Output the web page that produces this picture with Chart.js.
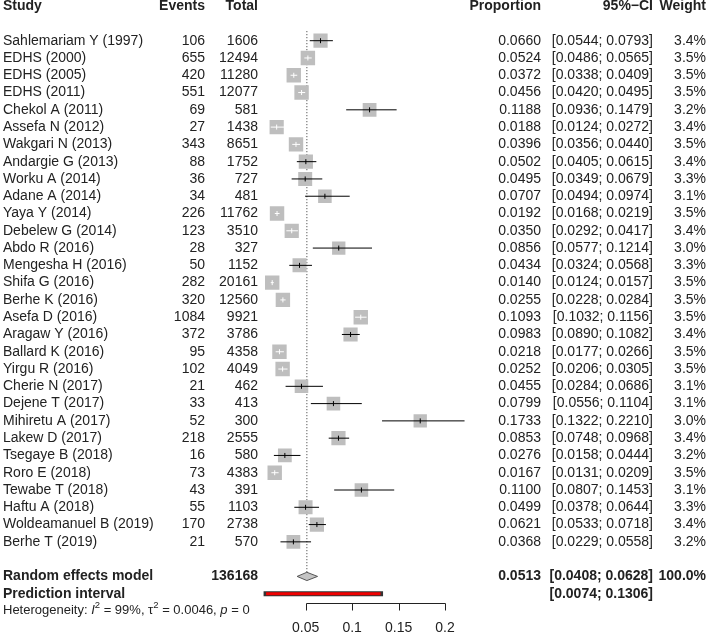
<!DOCTYPE html>
<html>
<head>
<meta charset="utf-8">
<script src="https://cdn.jsdelivr.net/npm/chart.js@4"></script>
<style>
body { margin: 0; background: #fff; }
</style>
</head>
<body>
<canvas id="forest" width="709" height="635"></canvas>
<script>
// study level data
const studies = [
  'Sahlemariam Y (1997)', 'EDHS (2000)', 'EDHS (2005)', 'EDHS (2011)', 'Chekol A (2011)',
  'Assefa N (2012)', 'Wakgari N (2013)', 'Andargie G (2013)', 'Worku A (2014)', 'Adane A (2014)',
  'Yaya Y (2014)', 'Debelew G (2014)', 'Abdo R (2016)', 'Mengesha H (2016)', 'Shifa G (2016)',
  'Berhe K (2016)', 'Asefa D (2016)', 'Aragaw Y (2016)', 'Ballard K (2016)', 'Yirgu R (2016)',
  'Cherie N (2017)', 'Dejene T (2017)', 'Mihiretu A (2017)', 'Lakew D (2017)', 'Tsegaye B (2018)',
  'Roro E (2018)', 'Tewabe T (2018)', 'Haftu A (2018)', 'Woldeamanuel B (2019)', 'Berhe T (2019)'
];
const events = [106, 655, 420, 551, 69, 27, 343, 88, 36, 34, 226, 123, 28, 50, 282,
  320, 1084, 372, 95, 102, 21, 33, 52, 218, 16, 73, 43, 55, 170, 21];
const totals = [1606, 12494, 11280, 12077, 581, 1438, 8651, 1752, 727, 481, 11762, 3510, 327, 1152, 20161,
  12560, 9921, 3786, 4358, 4049, 462, 413, 300, 2555, 580, 4383, 391, 1103, 2738, 570];
const props = [0.0660, 0.0524, 0.0372, 0.0456, 0.1188, 0.0188, 0.0396, 0.0502, 0.0495, 0.0707,
  0.0192, 0.0350, 0.0856, 0.0434, 0.0140, 0.0255, 0.1093, 0.0983, 0.0218, 0.0252,
  0.0455, 0.0799, 0.1733, 0.0853, 0.0276, 0.0167, 0.1100, 0.0499, 0.0621, 0.0368];
const lower = [0.0544, 0.0486, 0.0338, 0.0420, 0.0936, 0.0124, 0.0356, 0.0405, 0.0349, 0.0494,
  0.0168, 0.0292, 0.0577, 0.0324, 0.0124, 0.0228, 0.1032, 0.0890, 0.0177, 0.0206,
  0.0284, 0.0556, 0.1322, 0.0748, 0.0158, 0.0131, 0.0807, 0.0378, 0.0533, 0.0229];
const upper = [0.0793, 0.0565, 0.0409, 0.0495, 0.1479, 0.0272, 0.0440, 0.0615, 0.0679, 0.0974,
  0.0219, 0.0417, 0.1214, 0.0568, 0.0157, 0.0284, 0.1156, 0.1082, 0.0266, 0.0305,
  0.0686, 0.1104, 0.2210, 0.0968, 0.0444, 0.0209, 0.1453, 0.0644, 0.0718, 0.0558];
const weights = [3.4, 3.5, 3.5, 3.5, 3.2, 3.4, 3.5, 3.4, 3.3, 3.1, 3.5, 3.4, 3.0, 3.3, 3.5,
  3.5, 3.5, 3.4, 3.5, 3.5, 3.1, 3.1, 3.0, 3.4, 3.2, 3.5, 3.1, 3.3, 3.4, 3.2];

// pooled results
const pooled = [0.0513, 0.0408, 0.0628]; // estimate, lower, upper
const predInt = [0.0074, 0.1306];
const totalN = 136168;
const hetI2 = '99%', hetTau2 = '0.0046', hetP = '0';
const xTicks = [0.05, 0.1, 0.15, 0.2];

const reRow = 31, piRow = 32;
const FONT = '"Liberation Sans", Arial, sans-serif';

function squareSide(w) { return 7.7 * Math.sqrt(w); }

// CI drawn white when it fits inside the square
function inside(chart, i) {
  const x = chart.scales.x;
  return x.getPixelForValue(upper[i]) - x.getPixelForValue(lower[i]) < squareSide(weights[i]);
}

const ciData = [];
studies.forEach((s, i) => {
  ciData.push({x: lower[i], y: i}, {x: upper[i], y: i}, {x: null, y: null});
});

const textPlugin = {
  id: 'forestText',
  afterDraw(chart) {
    const ctx = chart.ctx;
    const xs = chart.scales.x, ys = chart.scales.y;
    const rowY = r => ys.getPixelForValue(r);
    ctx.save();
    ctx.fillStyle = '#222';
    ctx.textBaseline = 'middle';

    function txt(s, x, y, align, bold) {
      ctx.font = (bold ? 'bold ' : '') + '14px ' + FONT;
      ctx.textAlign = align;
      ctx.fillText(s, x, y);
    }

    // header
    let y = rowY(-2) + 0.5;
    txt('Study', 3, y, 'left', true);
    txt('Events', 205, y, 'right', true);
    txt('Total', 258, y, 'right', true);
    txt('Proportion', 541, y, 'right', true);
    txt('95%\u2212CI', 653, y, 'right', true);
    txt('Weight', 706, y, 'right', true);

    studies.forEach((s, i) => {
      const yy = rowY(i);
      txt(s, 3, yy, 'left');
      txt(String(events[i]), 205, yy, 'right');
      txt(String(totals[i]), 258, yy, 'right');
      txt(props[i].toFixed(4), 541, yy, 'right');
      txt('[' + lower[i].toFixed(4) + '; ' + upper[i].toFixed(4) + ']', 653, yy, 'right');
      txt(weights[i].toFixed(1) + '%', 706, yy, 'right');
    });

    y = rowY(reRow);
    txt('Random effects model', 3, y, 'left', true);
    txt(String(totalN), 258, y, 'right', true);
    txt(pooled[0].toFixed(4), 541, y, 'right', true);
    txt('[' + pooled[1].toFixed(4) + '; ' + pooled[2].toFixed(4) + ']', 653, y, 'right', true);
    txt('100.0%', 706, y, 'right', true);

    y = rowY(piRow);
    txt('Prediction interval', 3, y, 'left', true);
    txt('[' + predInt[0].toFixed(4) + '; ' + predInt[1].toFixed(4) + ']', 653, y, 'right', true);

    // heterogeneity line, pieces for italics and superscripts
    y = rowY(32.95);
    let x = 3;
    ctx.textAlign = 'left';
    const parts = [
      ['Heterogeneity: ', ''], ['I', 'italic '], ['2', 'sup'], [' = ' + hetI2 + ', ', ''],
      ['\u03c4', ''], ['2', 'sup'], [' = ' + hetTau2 + ', ', ''], ['p', 'italic '], [' = ' + hetP, '']
    ];
    parts.forEach(([s, st]) => {
      if (st === 'sup') {
        ctx.font = '9.5px ' + FONT;
        ctx.fillText(s, x, y - 5);
      } else {
        ctx.font = st + '13px ' + FONT;
        ctx.fillText(s, x, y);
      }
      x += ctx.measureText(s).width;
    });

    // x axis
    const ay = 603.5;
    ctx.strokeStyle = '#222';
    ctx.lineWidth = 1;
    ctx.beginPath();
    ctx.moveTo(Math.round(xs.getPixelForValue(xTicks[0])) + 0.5, ay);
    ctx.lineTo(Math.round(xs.getPixelForValue(xTicks[xTicks.length - 1])) + 0.5, ay);
    xTicks.forEach(t => {
      const px = Math.round(xs.getPixelForValue(t)) + 0.5;
      ctx.moveTo(px, ay);
      ctx.lineTo(px, ay + 7);
    });
    ctx.stroke();
    xTicks.forEach(t => {
      txt(String(t), xs.getPixelForValue(t), 628, 'center');
    });
    ctx.restore();
  }
};

new Chart(document.getElementById('forest'), {
  type: 'scatter',
  data: {
    datasets: [
      {
        // estimate tick marks
        type: 'scatter',
        order: 0,
        data: props.map((p, i) => ({x: p, y: i})),
        pointStyle: 'line',
        rotation: 90,
        pointRadius: 2.5,
        pointBorderWidth: 1,
        pointBorderColor: c => inside(c.chart, c.dataIndex) ? '#fff' : '#000'
      },
      {
        // confidence intervals
        type: 'line',
        order: 1,
        data: ciData,
        spanGaps: false,
        pointRadius: 0,
        borderWidth: 1,
        borderColor: '#000',
        segment: {
          borderColor: c => inside(c.chart, Math.floor(c.p0DataIndex / 3)) ? '#fff' : '#000'
        }
      },
      {
        // weight squares
        type: 'scatter',
        order: 2,
        data: props.map((p, i) => ({x: p, y: i})),
        pointStyle: 'rect',
        pointRadius: c => squareSide(weights[c.dataIndex]) / Math.SQRT2,
        backgroundColor: '#bebebe',
        pointBorderWidth: 0
      },
      {
        // pooled diamond
        type: 'line',
        order: 3,
        data: [
          {x: pooled[1], y: reRow}, {x: pooled[0], y: reRow - 0.24},
          {x: pooled[2], y: reRow}, {x: pooled[0], y: reRow + 0.24}, {x: pooled[1], y: reRow}
        ],
        fill: 'shape',
        backgroundColor: '#c4c4c4',
        borderColor: '#555',
        borderWidth: 1,
        pointRadius: 0,
        tension: 0
      },
      {
        // prediction interval, red bar
        type: 'line',
        order: 4,
        data: [{x: predInt[0], y: piRow}, {x: predInt[1], y: piRow}],
        borderColor: '#f00000',
        borderWidth: 3,
        borderCapStyle: 'butt',
        pointRadius: 0
      },
      {
        type: 'line',
        order: 5,
        data: [{x: predInt[0], y: piRow}, {x: predInt[1], y: piRow}],
        borderColor: '#333',
        borderWidth: 5,
        borderCapStyle: 'square',
        pointRadius: 0
      },
      {
        // reference line at pooled estimate
        type: 'line',
        order: 6,
        data: [{x: pooled[0], y: -0.55}, {x: pooled[0], y: 30.75}],
        borderColor: '#333',
        borderWidth: 1,
        borderDash: [1, 2],
        pointRadius: 0
      }
    ]
  },
  options: {
    responsive: false,
    animation: false,
    events: [],
    layout: { autoPadding: false, padding: { left: 259.2, right: 217.5, top: 0, bottom: 0 } },
    scales: {
      x: { type: 'linear', min: 0, max: 0.25, display: false },
      y: { type: 'linear', min: -2.355, max: 34.39, reverse: true, display: false }
    },
    plugins: { legend: { display: false }, tooltip: { enabled: false } }
  },
  plugins: [textPlugin]
});
</script>
</body>
</html>
